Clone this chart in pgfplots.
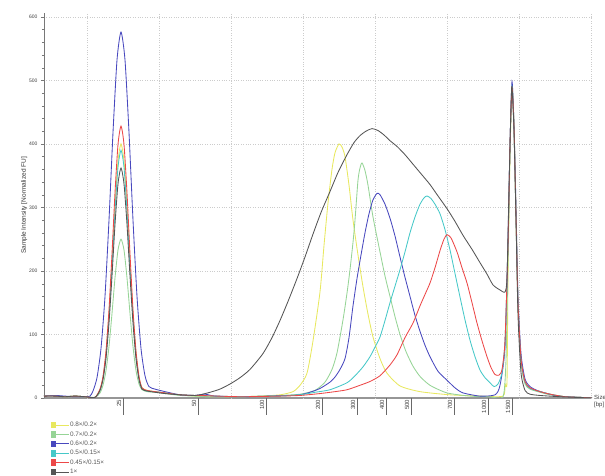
\documentclass[border=0pt]{standalone}
\usepackage{fontspec}
\setmainfont{Liberation Sans}
\usepackage{pgfplots}
\pgfplotsset{compat=1.18}

\definecolor{cY}{RGB}{232,232,95}
\definecolor{cG}{RGB}{150,212,150}
\definecolor{cB}{RGB}{72,72,190}
\definecolor{cC}{RGB}{70,200,200}
\definecolor{cR}{RGB}{236,72,72}
\definecolor{cK}{RGB}{85,85,85}
\definecolor{axgray}{RGB}{150,150,150}

\begin{document}
\begin{tikzpicture}
\begin{axis}[
  at={(44pt,78pt)}, anchor=south west,
  scale only axis, width=548pt, height=385pt,
  xmin=44, xmax=592, ymin=0, ymax=606,
  axis x line*=bottom, axis y line*=left,
  x axis line style={axgray, line width=1.4pt, -},
  y axis line style={axgray!80!black, line width=0.9pt, -},
  xtick={123,198,266,322,357,386,411,454,488,512},
  xticklabels={25,50,100,200,300,400,500,700,1000,1500},
  x tick style={draw=none},
  xticklabel style={font=\fontsize{6}{7}\selectfont, rotate=90, anchor=south east, inner sep=1.5pt, text=black!75},
  extra x ticks={87,159,231,303,375,447,519,591},
  extra x tick labels={},
  extra x tick style={grid=major, major tick length=0pt},
  ytick={0,100,...,600},
  minor y tick num=4,
  ytick align=outside, major tick length=3pt, minor tick length=2pt,
  y tick style={axgray!80!black},
  yticklabel style={font=\fontsize{5}{6}\selectfont, text=black!75},
  /pgf/number format/assume math mode=true,
  ymajorgrids=true,
  grid style={dotted, line width=0.6pt, black!20},
  ylabel={Sample Intensity [Normalized FU]},
  ylabel style={font=\fontsize{6.5}{7.5}\selectfont, text=black!80, yshift=-5pt},
  extra description/.code={
    \foreach \t in {123,198,266,322,357,386,411,454,488,512}{
      \draw[axgray!70!black, line width=0.8pt] (axis cs:\t,0) -- ([yshift=-17pt]axis cs:\t,0);
    }
  },
  legend style={at={(0.007,-0.055)}, anchor=north west, draw=none, fill=none,
    font=\fontsize{6.4}{7}\selectfont, text=black!65, row sep=2.1pt,
    nodes={inner sep=0.6pt}},
  legend cell align=left,
  legend image code/.code={
    \fill[#1, draw=none] (0pt,-3.3pt) rectangle (5pt,3.3pt);
    \draw[#1, sharp plot] (5pt,0pt) -- (18pt,0pt);
  },
  every axis plot/.append style={line width=0.85pt, mark=none, smooth, tension=0.4},
]

% 0.8x/0.2x
\addplot[cY] coordinates {
(44,3) (55,4) (65,2) (75,3) (85,2) (95,1) (100,13) (103,32) (106,69) (109,130) (112,212) (115,302) (118,373) (121,400) (124,373) (127,302) (130,212) (133,130) (136,69) (139,32) (142,16) (147,12) (155,10) (165,8) (180,5) (195,3)
(210,2) (240,2) (260,3) (280,5) (293,10) (300,20) (307,39) (313,90) (320,167) (324,240) (328,307) (332,360) (335,386) (339,400) (342,395) (345,380) (349,335) (353,280) (358,225) (363,175) (368,132) (373,96) (380,62) (387,39) (400,19) (420,10) (450,5) (480,3) (503,3)
(505,22) (507,26) (508,190) (510,380) (512,490) (514,430) (516,290) (518,150) (521,60) (525,25) (530,15) (540,10) (550,6) (565,2) (580,1) (592,0)};
\addlegendentry{0.8×/0.2×}

% 0.7x/0.2x
\addplot[cG] coordinates {
(44,3) (55,3) (65,2) (75,3) (85,2) (95,1) (100,8) (103,20) (106,43) (109,81) (112,133) (115,189) (118,233) (121,250) (124,233) (127,189) (130,133) (133,81) (136,43) (139,22) (142,13) (147,10) (155,9) (165,7) (180,4) (195,3)
(210,2) (240,2) (260,3) (280,4) (300,6) (315,12) (325,25) (332,45) (337,71) (343,123) (347,165) (350,202) (353,245) (355,280) (358,343) (360,362) (362,370) (365,358) (368,335) (373,285) (380,230) (385,192) (390,160) (395,128) (400,100) (406,73) (413,50) (420,34) (430,20) (447,8) (470,3) (490,2) (503,2)
(506,60) (508,220) (510,390) (512,485) (514,420) (516,280) (518,145) (521,55) (525,22) (530,14) (540,9) (550,5) (565,2) (580,1) (592,0)};
\addlegendentry{0.7×/0.2×}

% 0.6x/0.2x
\addplot[cB] coordinates {
(44,3) (55,4) (65,3) (75,2) (85,2) (90,3) (93,11) (97,32) (101,78) (105,160) (109,280) (113,418) (117,532) (121,576) (125,532) (129,418) (133,280) (137,160) (141,78) (145,35) (149,18) (155,14) (165,10) (180,5) (195,4) (205,6) (215,3)
(240,2) (270,3) (290,4) (300,5) (310,9) (320,15) (330,25) (335,33) (340,45) (345,62) (349,95) (353,145) (357,188) (361,225) (365,260) (369,290) (373,312) (377,322) (380,320) (385,305) (390,283) (395,255) (400,222) (405,190) (410,160) (415,130) (420,105) (425,83) (430,65) (438,42) (447,28) (455,16) (463,8) (480,3) (495,5)
(500,20) (505,80) (508,250) (510,400) (512,498) (514,430) (516,300) (518,160) (521,70) (525,30) (530,18) (537,12) (545,8) (555,4) (565,2) (580,1) (592,0)};
\addlegendentry{0.6×/0.2×}

% 0.5x/0.15x
\addplot[cC] coordinates {
(44,3) (55,3) (65,2) (75,3) (85,2) (95,1) (100,12) (103,31) (106,67) (109,127) (112,207) (115,294) (118,363) (121,390) (124,363) (127,294) (130,207) (133,127) (136,67) (139,31) (142,15) (147,11) (155,10) (165,8) (180,5) (195,4)
(200,4) (240,2) (280,3) (300,5) (315,9) (330,13) (347,24) (355,35) (363,49) (370,65) (375,80) (380,96) (385,122) (390,150) (395,176) (400,202) (405,230) (410,260) (415,285) (420,305) (424,315) (427,318) (431,314) (435,305) (440,290) (445,265) (450,233) (455,196) (460,159) (465,123) (470,91) (475,65) (480,44) (485,32) (490,24) (494,18) (498,22)
(502,40) (505,90) (508,240) (510,400) (512,490) (514,425) (516,285) (518,150) (521,60) (525,25) (530,15) (540,10) (550,6) (565,2) (580,1) (592,0)};
\addlegendentry{0.5×/0.15×}

% 0.45x/0.15x
\addplot[cR] coordinates {
(44,3) (55,3) (65,2) (75,3) (85,2) (95,1) (100,14) (103,34) (106,74) (109,139) (112,227) (115,323) (118,399) (121,428) (124,399) (127,323) (130,227) (133,139) (136,74) (139,34) (142,16) (147,12) (155,10) (165,8) (180,5) (195,4)
(200,4) (240,2) (280,3) (300,4) (320,7) (335,10) (347,13) (360,20) (370,26) (380,35) (390,52) (397,68) (405,95) (413,118) (420,145) (425,163) (430,181) (435,205) (440,232) (444,250) (447,257) (451,252) (457,230) (462,205) (467,181) (472,150) (477,118) (482,90) (487,65) (491,48) (495,37) (499,36)
(502,45) (505,90) (508,240) (510,400) (512,488) (514,425) (516,285) (518,150) (521,62) (525,26) (530,16) (540,10) (550,6) (565,2) (580,1) (592,0)};
\addlegendentry{0.45×/0.15×}

% 1x
\addplot[cK] coordinates {
(44,3) (55,3) (65,2) (75,3) (85,2) (95,1) (100,12) (103,29) (106,62) (109,118) (112,192) (115,273) (118,337) (121,362) (124,337) (127,273) (130,192) (133,118) (136,62) (139,29) (142,14) (147,11) (155,9) (165,7) (180,5) (195,4)
(200,5) (210,9) (220,14) (230,22) (240,32) (250,45) (263,70) (272,95) (280,122) (288,152) (297,188) (305,222) (313,258) (321,292) (330,325) (338,355) (347,383) (354,402) (360,413) (366,420) (372,424) (378,421) (384,414) (390,405) (397,396) (405,383) (413,368) (421,353) (430,336) (438,318) (447,298) (455,278) (463,256) (472,234) (480,213) (487,195) (493,178) (500,170) (505,167)
(507,190) (509,330) (511,460) (512,490) (514,420) (516,280) (518,130) (521,40) (525,12) (530,6) (540,4) (560,2) (592,0)};
\addlegendentry{1×}

\end{axis}
\node[anchor=north west, align=left, inner sep=0pt, font=\fontsize{6}{7}\selectfont, text=black!75] at (594pt,81pt) {Size\\{}[bp]};
\pgfresetboundingbox
\useasboundingbox (0,0) rectangle (605pt,476pt);
\end{tikzpicture}
\end{document}
